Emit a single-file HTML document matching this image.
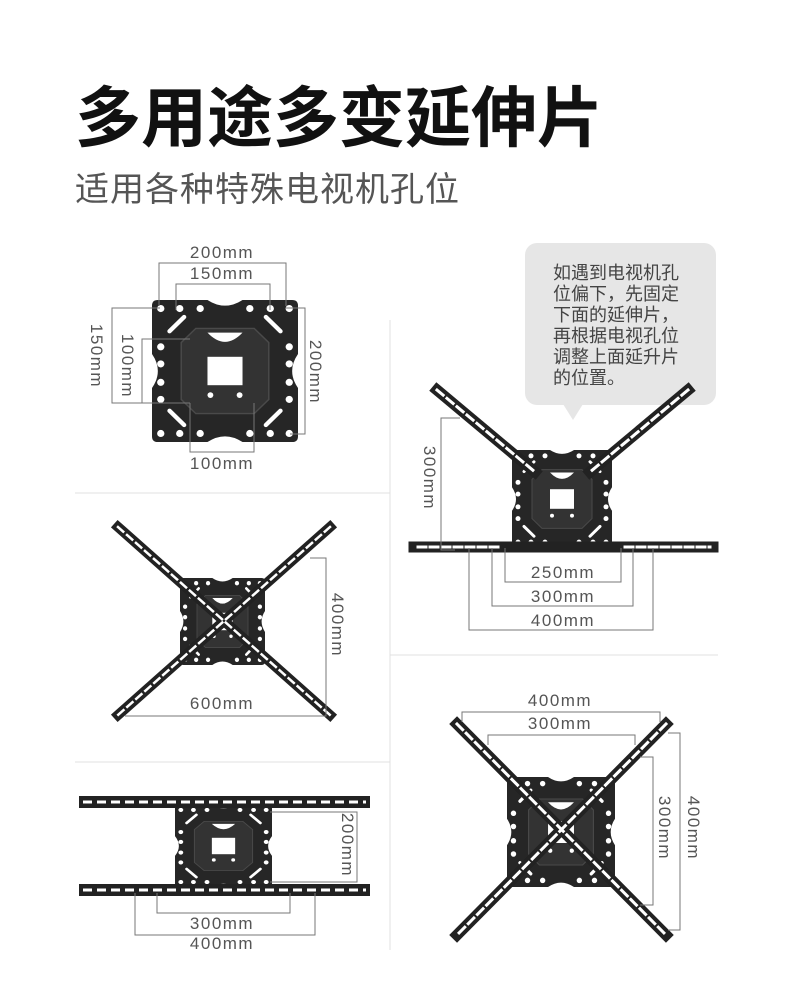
<!DOCTYPE html>
<html><head><meta charset="utf-8"><style>
body{margin:0;background:#fff;width:790px;height:1000px;overflow:hidden}
svg{display:block}
text{font-family:"Liberation Sans","Noto Sans CJK SC",sans-serif}
</style></head><body>
<svg width="790" height="1000" viewBox="0 0 790 1000" xmlns="http://www.w3.org/2000/svg">
<defs>
<symbol id="plate" viewBox="0 0 100 100" preserveAspectRatio="none">
<path d="M4 0H38Q44 4 50 4Q56 4 62 0H96Q100 0 100 4V38Q96 44 96 50Q96 56 100 62V96Q100 100 96 100H62Q56 96 50 96Q44 96 38 100H4Q0 100 0 96V62Q4 56 4 50Q4 44 0 38V4Q0 0 4 0Z" fill="#262626"/>
<path d="M30 20H70L80 30V70L70 80H30L20 70V30Z" fill="#333" stroke="#4a4a4a" stroke-width="1"/>
<rect x="38" y="40" width="24" height="20" fill="#fff"/>
<path d="M38 23Q50 36 62 23Z" fill="#fff"/>
<g fill="#fff">
<circle cx="6" cy="6" r="2.5"/><circle cx="19" cy="6" r="2.5"/><circle cx="33" cy="6" r="2.5"/><circle cx="67" cy="6" r="2.5"/><circle cx="81" cy="6" r="2.5"/><circle cx="94" cy="6" r="2.5"/>
<circle cx="6" cy="94" r="2.5"/><circle cx="19" cy="94" r="2.5"/><circle cx="33" cy="94" r="2.5"/><circle cx="67" cy="94" r="2.5"/><circle cx="81" cy="94" r="2.5"/><circle cx="94" cy="94" r="2.5"/>
<circle cx="6" cy="33" r="2.5"/><circle cx="6" cy="45" r="2.5"/><circle cx="6" cy="58" r="2.5"/><circle cx="6" cy="70" r="2.5"/>
<circle cx="94" cy="33" r="2.5"/><circle cx="94" cy="45" r="2.5"/><circle cx="94" cy="58" r="2.5"/><circle cx="94" cy="70" r="2.5"/>
<circle cx="40" cy="67" r="2"/><circle cx="60" cy="67" r="2"/>
</g>
<g stroke="#fff" stroke-width="3" stroke-linecap="round" fill="none">
<path d="M12 22L22 12"/><path d="M88 22L78 12"/><path d="M12 78L22 88"/><path d="M88 78L78 88"/>
</g>
</symbol>
</defs>

<text x="75" y="141" font-size="66" font-weight="bold" fill="#111">多用途多变延伸片</text>
<text x="75" y="201" font-size="34" letter-spacing="1" fill="#555">适用各种特殊电视机孔位</text>

<g stroke="#e0e0e0" stroke-width="1">
<line x1="75" y1="493" x2="390" y2="493"/>
<line x1="390" y1="320" x2="390" y2="950"/>
<line x1="390" y1="655" x2="718" y2="655"/>
<line x1="75" y1="762" x2="390" y2="762"/>
</g>

<!-- Panel 1 -->
<use href="#plate" x="152" y="300" width="146" height="142"/>
<g stroke="#777" stroke-width="1" fill="none">
<path d="M159 306V263H286V306"/>
<path d="M176 310V284H270V310"/>
<path d="M160 308H112V403H160"/>
<path d="M190 339H142V403H190"/>
<path d="M286 308H305V434H290"/>
<path d="M190 403V452H254V403"/>
</g>
<g font-size="17" letter-spacing="1.5" fill="#555" text-anchor="middle">
<text x="222" y="258">200mm</text>
<text x="222" y="279">150mm</text>
<text x="222" y="469">100mm</text>
<text transform="translate(91,356) rotate(90)">150mm</text>
<text transform="translate(122,366) rotate(90)">100mm</text>
<text transform="translate(310,372) rotate(90)">200mm</text>
</g>

<!-- Panel 2 -->
<rect x="525" y="243" width="191" height="162" rx="12" fill="#e6e6e6"/>
<path d="M563 404L573 420L583 404Z" fill="#e6e6e6"/>
<g font-size="18" fill="#444">
<text x="553" y="279">如遇到电视机孔</text>
<text x="553" y="300">位偏下，先固定</text>
<text x="553" y="321">下面的延伸片，</text>
<text x="553" y="342">再根据电视孔位</text>
<text x="553" y="363">调整上面延升片</text>
<text x="553" y="384">的位置。</text>
</g>
<use href="#plate" x="512" y="450" width="100" height="98"/>
<g stroke-linecap="square">
<line x1="437" y1="390" x2="535" y2="472" stroke="#222" stroke-width="11"/>
<line x1="688" y1="390" x2="590" y2="472" stroke="#222" stroke-width="11"/>
<line x1="414" y1="547" x2="713" y2="547" stroke="#222" stroke-width="11"/>
<line x1="437" y1="390" x2="535" y2="472" stroke="#fff" stroke-width="3" stroke-dasharray="8 5"/>
<line x1="688" y1="390" x2="590" y2="472" stroke="#fff" stroke-width="3" stroke-dasharray="8 5"/>
<line x1="418" y1="547" x2="500" y2="547" stroke="#fff" stroke-width="3" stroke-dasharray="8 4"/>
<line x1="625" y1="547" x2="710" y2="547" stroke="#fff" stroke-width="3" stroke-dasharray="8 4"/>
</g>
<g stroke="#777" stroke-width="1" fill="none">
<path d="M460 418H441V550H455"/>
<path d="M505 548V582H621V548"/>
<path d="M492 548V606H633V548"/>
<path d="M469 548V630H653V548"/>
</g>
<g font-size="17" letter-spacing="1.5" fill="#555" text-anchor="middle">
<text transform="translate(424,478) rotate(90)">300mm</text>
<text x="563" y="578">250mm</text>
<text x="563" y="602">300mm</text>
<text x="563" y="626">400mm</text>
</g>

<!-- Panel 3 -->
<use href="#plate" x="180" y="578" width="85" height="87"/>
<g stroke-linecap="square">
<line x1="118" y1="527" x2="330" y2="715" stroke="#222" stroke-width="10"/>
<line x1="330" y1="527" x2="118" y2="715" stroke="#222" stroke-width="10"/>
<line x1="118" y1="527" x2="330" y2="715" stroke="#fff" stroke-width="2.5" stroke-dasharray="7 5"/>
<line x1="330" y1="527" x2="118" y2="715" stroke="#fff" stroke-width="2.5" stroke-dasharray="7 5"/>
</g>
<g stroke="#777" stroke-width="1" fill="none">
<path d="M310 558H326V716H125"/>
</g>
<g font-size="17" letter-spacing="1.5" fill="#555" text-anchor="middle">
<text transform="translate(332,625) rotate(90)">400mm</text>
<text x="222" y="709">600mm</text>
</g>

<!-- Panel 4 -->
<use href="#plate" x="175" y="805" width="97" height="82"/>
<g>
<rect x="79" y="796" width="291" height="12" fill="#222"/>
<rect x="79" y="884" width="291" height="12" fill="#222"/>
<line x1="83" y1="802" x2="366" y2="802" stroke="#fff" stroke-width="3" stroke-dasharray="9 5"/>
<line x1="83" y1="890" x2="366" y2="890" stroke="#fff" stroke-width="3" stroke-dasharray="9 5"/>
</g>
<g stroke="#777" stroke-width="1" fill="none">
<path d="M270 812H357V882H270"/>
<path d="M157 893V913H290V893"/>
<path d="M135 893V935H315V893"/>
</g>
<g font-size="17" letter-spacing="1.5" fill="#555" text-anchor="middle">
<text transform="translate(342,845) rotate(90)">200mm</text>
<text x="222" y="929">300mm</text>
<text x="222" y="949">400mm</text>
</g>

<!-- Panel 5 -->
<use href="#plate" x="507" y="777" width="108" height="110"/>
<g stroke-linecap="square">
<line x1="457" y1="724" x2="666" y2="935" stroke="#222" stroke-width="11"/>
<line x1="666" y1="724" x2="457" y2="935" stroke="#222" stroke-width="11"/>
<line x1="457" y1="724" x2="666" y2="935" stroke="#fff" stroke-width="3" stroke-dasharray="8 5"/>
<line x1="666" y1="724" x2="457" y2="935" stroke="#fff" stroke-width="3" stroke-dasharray="8 5"/>
</g>
<g stroke="#777" stroke-width="1" fill="none">
<path d="M462 722V712H660V722"/>
<path d="M488 745V735H635V745"/>
<path d="M640 757H653V905H640"/>
<path d="M668 733H680V930H668"/>
</g>
<g font-size="17" letter-spacing="1.5" fill="#555" text-anchor="middle">
<text x="560" y="706">400mm</text>
<text x="560" y="729">300mm</text>
<text transform="translate(659,828) rotate(90)">300mm</text>
<text transform="translate(688,828) rotate(90)">400mm</text>
</g>
</svg>
</body></html>
